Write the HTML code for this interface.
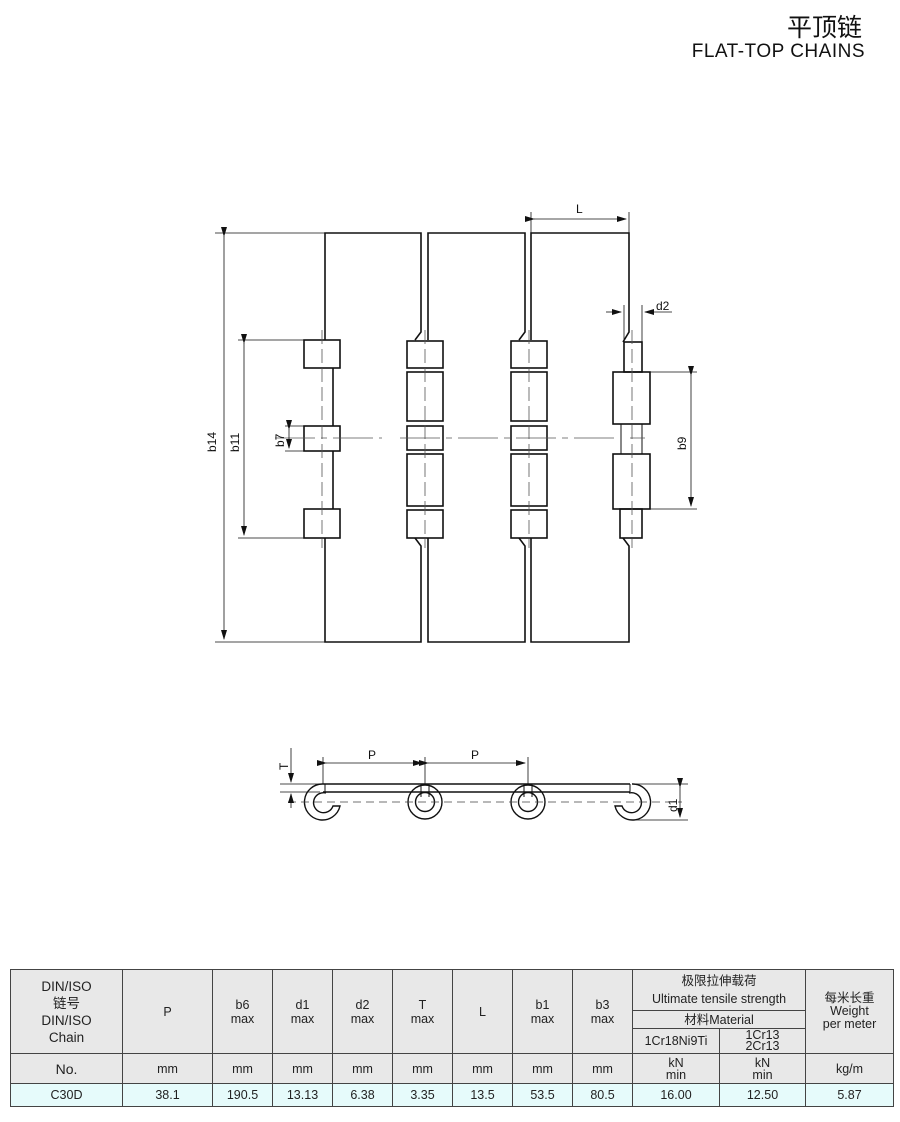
<!DOCTYPE html>
<html><head><meta charset="utf-8"><style>
html,body{margin:0;padding:0;background:#fff;}
body{width:900px;height:1122px;position:relative;overflow:hidden;font-family:"Liberation Sans","Noto Sans CJK SC",sans-serif;}
.t1{position:absolute;right:38px;top:8px;font-size:25px;color:#111;font-family:"Noto Sans CJK SC",sans-serif;}
.t2{position:absolute;right:35px;top:41px;font-size:19px;color:#111;letter-spacing:0.5px;}
table{position:absolute;left:10px;top:969px;border-collapse:collapse;font-size:12.5px;color:#222;}
td{border:1px solid #444;text-align:center;padding:0;line-height:14px;background:#e8e8e8;}
tr.d td{background:#e6fbfb;height:22px;}
</style></head><body>
<div class="t1">平顶链</div>
<div class="t2">FLAT-TOP CHAINS</div>
<svg width="900" height="960" style="position:absolute;left:0;top:0" font-family="Liberation Sans,sans-serif" font-size="12" fill="none" stroke="#111">
<defs><marker id="a" markerWidth="10" markerHeight="6" refX="9" refY="3" orient="auto" markerUnits="userSpaceOnUse"><path d="M0,0 L10,3 L0,6z" fill="#111" stroke="none"/></marker></defs>
<g stroke-width="1.6">
<!-- plate1 -->
<path d="M325,340 V233 H421 V332 L415,340"/>
<path d="M325,538 V642 H421 V546 L415,538"/>
<path d="M333,368 V426 M333,451 V509"/>
<!-- plate2 -->
<path d="M428,340 V233 H525 V332 L519,340"/>
<path d="M428,538 V642 H525 V546 L519,538"/>
<!-- plate3 -->
<path d="M531,340 V233 H629 V332 L623,342"/>
<path d="M531,538 V642 H629 V546 L623,538"/>
<!-- col1 blocks -->
<rect x="304" y="340" width="36" height="28"/><rect x="304" y="426" width="36" height="25"/><rect x="304" y="509" width="36" height="29"/>
<!-- col2 -->
<rect x="407" y="341" width="36" height="27"/><rect x="407" y="372" width="36" height="49"/><rect x="407" y="426" width="36" height="24"/><rect x="407" y="454" width="36" height="52"/><rect x="407" y="510" width="36" height="28"/>
<!-- col3 -->
<rect x="511" y="341" width="36" height="27"/><rect x="511" y="372" width="36" height="49"/><rect x="511" y="426" width="36" height="24"/><rect x="511" y="454" width="36" height="52"/><rect x="511" y="510" width="36" height="28"/>
<!-- col4 -->
<rect x="624" y="342" width="18" height="30"/><rect x="613" y="372" width="37" height="52"/><rect x="613" y="454" width="37" height="55"/><rect x="620" y="509" width="22" height="29"/>
<path d="M621,424 V454 M642,424 V454" stroke-width="1"/>
</g>
<g stroke-width="0.8" stroke="#555">
<path d="M322,330 V548 M425,330 V548 M529,330 V548 M632,330 V548" stroke-dasharray="14,5"/>
<path d="M275,438 H382 M400,438 H620 M630,438 H645" stroke-dasharray="40,6,6,6"/>
</g>
<g stroke-width="0.8">
<path d="M215,233 H325 M215,642 H325"/>
<path d="M224,236 V639" marker-start="url(#a)" marker-end="url(#a)"/>
<path d="M238,340 H304 M238,538 H304"/>
<path d="M244,343 V535" marker-start="url(#a)" marker-end="url(#a)"/>
<path d="M285,426 H304 M285,451 H304"/>
<path d="M289,429 V448" marker-start="url(#a)" marker-end="url(#a)"/>
<path d="M531,212 V233 M629,212 V233"/>
<path d="M534,219 H626" marker-start="url(#a)" marker-end="url(#a)"/>
<path d="M624,305 V342 M642,305 V342"/>
<path d="M606,312 H621" marker-end="url(#a)"/><path d="M672,312 H645" marker-end="url(#a)"/>
<path d="M650,372 H697 M650,509 H697"/>
<path d="M691,375 V506" marker-start="url(#a)" marker-end="url(#a)"/>
</g>
<g fill="#111" stroke="none">
<text x="576" y="213">L</text><text x="656" y="310">d2</text>
<text transform="translate(216,452) rotate(-90)">b14</text>
<text transform="translate(239,452) rotate(-90)">b11</text>
<text transform="translate(284,447) rotate(-90)">b7</text>
<text transform="translate(686,450) rotate(-90)">b9</text>
<text x="368" y="759">P</text><text x="471" y="759">P</text>
<text transform="translate(288,770) rotate(-90)">T</text>
<text transform="translate(677,812) rotate(-90)">d1</text>
</g>
<!-- side view -->
<g stroke-width="1.4">
<path d="M323,784 H630 M323,792 H630"/>
<g stroke-width="1.4">
<path d="M323,784 A18,18 0 1 0 340,806 L333,806 A10,10 0 1 1 326,793"/>
<circle cx="425" cy="802" r="17"/><circle cx="425" cy="802" r="9.5"/>
<circle cx="528" cy="802" r="17"/><circle cx="528" cy="802" r="9.5"/>
<path d="M632,784 A18,18 0 1 1 615,806 L622,806 A10,10 0 1 0 629,793"/>
<path d="M421,784 V797 M429,784 V797 M524,784 V797 M532,784 V797 M325,784 V792 M630,784 V792" stroke-width="1"/>
</g>
</g>
<g stroke-width="0.8">
<path d="M288,802 H682" stroke-dasharray="8,5" stroke="#444"/>
<path d="M323,757 V784 M425,757 V784 M528,757 V784"/>
<path d="M326,763 H422" marker-start="url(#a)" marker-end="url(#a)"/>
<path d="M428,763 H525" marker-start="url(#a)" marker-end="url(#a)"/>
<path d="M280,784 H320 M280,792 H320"/>
<path d="M291,748 V782" marker-end="url(#a)"/><path d="M291,808 V794" marker-end="url(#a)"/>
<path d="M632,784 H688 M632,820 H688"/>
<path d="M680,787 V817" marker-start="url(#a)" marker-end="url(#a)"/>
</g>
</svg>
<table>
<colgroup><col style="width:112px"><col style="width:90px"><col style="width:60px"><col style="width:60px"><col style="width:60px"><col style="width:60px"><col style="width:60px"><col style="width:60px"><col style="width:60px"><col style="width:87px"><col style="width:86px"><col style="width:88px"></colgroup>
<tr style="height:41px"><td rowspan="3" style="font-size:13.5px;line-height:17px">DIN/ISO<br>链号<br>DIN/ISO<br>Chain</td><td rowspan="3">P</td><td rowspan="3">b6<br>max</td><td rowspan="3">d1<br>max</td><td rowspan="3">d2<br>max</td><td rowspan="3">T<br>max</td><td rowspan="3">L</td><td rowspan="3">b1<br>max</td><td rowspan="3">b3<br>max</td><td colspan="2" style="line-height:18px">极限拉伸载荷<br>Ultimate tensile strength</td><td rowspan="3" style="line-height:13px">每米长重<br>Weight<br>per meter</td></tr>
<tr style="height:18px"><td colspan="2">材料Material</td></tr>
<tr style="height:25px"><td>1Cr18Ni9Ti</td><td style="line-height:11px">1Cr13<br>2Cr13</td></tr>
<tr style="height:30px"><td style="border-top:none;font-size:14px">No.</td><td>mm</td><td>mm</td><td>mm</td><td>mm</td><td>mm</td><td>mm</td><td>mm</td><td>mm</td><td style="line-height:12px">kN<br>min</td><td style="line-height:12px">kN<br>min</td><td>kg/m</td></tr>
<tr class="d"><td>C30D</td><td>38.1</td><td>190.5</td><td>13.13</td><td>6.38</td><td>3.35</td><td>13.5</td><td>53.5</td><td>80.5</td><td>16.00</td><td>12.50</td><td>5.87</td></tr>
</table>
</body></html>
